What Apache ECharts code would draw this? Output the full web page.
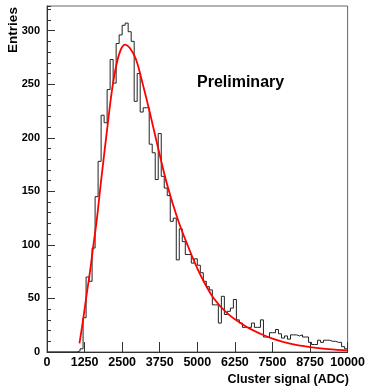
<!DOCTYPE html>
<html>
<head>
<meta charset="utf-8">
<script src="https://cdn.jsdelivr.net/npm/echarts@6/dist/echarts.min.js"></script>
<style>
  html, body { margin: 0; padding: 0; background: #fff; }
  #chart { width: 368px; height: 390px; }
</style>
</head>
<body>
<div id="chart"></div>
<script>
// Histogram of cluster signal, 100 bins of 100 ADC from 0 to 10000
const binStart = 0;
const binWidth = 100;
const counts = [
  0, 0, 0, 0, 0, 0, 0, 0, 0, 0,
  1, 3, 32, 70, 66, 97, 145, 178, 221, 214,
  245, 273, 251, 288, 296, 305, 307, 299, 290, 234,
  260, 224, 228, 228, 194, 186, 161, 204, 164, 153,
  146, 122, 125, 86, 115, 103, 91, 91, 83, 87,
  81, 74, 66, 61, 58, 44, 44, 27, 52, 35,
  38, 41, 49, 30, 27, 23, 23, 23, 27, 23,
  23, 30, 14, 14, 18, 18, 21, 17, 13, 15,
  12, 16, 16, 15, 16, 14, 14, 9, 7, 7,
  11, 9, 11, 11, 10, 10, 9, 9, 5, 3
];

// Fitted curve sampled along the signal axis
const fitX = [1080, 1200, 1310, 1430, 1535, 1650, 1800, 2030, 2150, 2300, 2450, 2600, 2750, 2950, 3150, 3400, 3700, 4000, 4350, 4700, 5000, 5250, 5550, 6000, 6550, 7100, 7550, 8050, 8750, 9350, 10000];
const fitY = [8, 30, 52, 75, 98, 122, 160, 215, 242, 267, 282, 287, 284, 274, 254, 226, 190, 156, 124, 98, 78, 64, 50, 36, 25, 17, 12, 8, 4.5, 2.6, 1.5];

const xTicks = ['0', '1250', '2500', '3750', '5000', '6250', '7500', '8750', '10000'];
const yTicks = ['0', '50', '100', '150', '200', '250', '300'];

// Outline of the histogram: each bin contributes its left and right edge
const histLine = [];
counts.forEach(function (c, i) {
  const x0 = binStart + i * binWidth;
  histLine.push([x0, c]);
  histLine.push([x0 + binWidth, c]);
});

const fitLine = fitX.map(function (x, i) { return [x, fitY[i]]; });

const FONT = 'Liberation Sans, Arial, Helvetica, sans-serif';

const chart = echarts.init(document.getElementById('chart'), null, { renderer: 'canvas' });
chart.setOption({
  animation: false,
  backgroundColor: '#ffffff',
  grid: {
    left: 47, right: 19, top: 6, bottom: 38,
    show: true, borderColor: '#666', borderWidth: 1, backgroundColor: 'transparent'
  },
  xAxis: {
    type: 'value',
    min: 0, max: 10000, interval: 1250,
    axisLine: { show: true, onZero: false, lineStyle: { color: '#333', width: 1 } },
    axisTick: { show: true, inside: true, length: 10, lineStyle: { color: '#333', width: 1 } },
    splitLine: { show: false },
    axisLabel: {
      margin: 4, color: '#000', fontFamily: FONT, fontWeight: 'bold', fontSize: 12.5,
      formatter: function (v) { return xTicks[Math.round(v / 1250)] || ''; }
    }
  },
  yAxis: [
    {
      type: 'value',
      min: 0, max: 323, interval: 50,
      axisLine: { show: true, onZero: false, lineStyle: { color: '#333', width: 1 } },
      axisTick: { show: true, inside: true, length: 8, lineStyle: { color: '#333', width: 1 } },
      splitLine: { show: false },
      axisLabel: {
        margin: 7, color: '#000', fontFamily: FONT, fontWeight: 'bold', fontSize: 11,
        showMaxLabel: false,
        formatter: function (v) { return v % 50 === 0 ? (yTicks[v / 50] || '') : ''; }
      }
    },
    {
      // minor ticks every 10 entries
      type: 'value', position: 'left',
      min: 0, max: 323, interval: 10,
      axisLine: { show: false },
      axisTick: { show: true, inside: true, length: 4, lineStyle: { color: '#333', width: 1 } },
      axisLabel: { show: false },
      splitLine: { show: false }
    }
  ],
  series: [
    {
      type: 'line',
      data: histLine,
      showSymbol: false,
      symbol: 'none',
      lineStyle: { color: '#222', width: 1 },
      z: 2
    },
    {
      type: 'line',
      data: fitLine,
      smooth: 0.4,
      showSymbol: false,
      symbol: 'none',
      lineStyle: { color: '#ff0000', width: 1.8 },
      z: 3
    }
  ],
  graphic: [
    {
      type: 'text', x: 197, y: 83,
      style: {
        text: 'Preliminary', fill: '#000',
        font: 'bold 16px ' + FONT,
        textAlign: 'left', textVerticalAlign: 'middle', align: 'left', verticalAlign: 'middle'
      }
    },
    {
      type: 'text', x: 349, y: 380,
      style: {
        text: 'Cluster signal (ADC)', fill: '#000',
        font: 'bold 12.5px ' + FONT,
        textAlign: 'right', textVerticalAlign: 'middle', align: 'right', verticalAlign: 'middle'
      }
    },
    {
      type: 'text', x: 13, y: 30, rotation: Math.PI / 2,
      style: {
        text: 'Entries', fill: '#000',
        font: 'bold 13.5px ' + FONT,
        textAlign: 'center', textVerticalAlign: 'middle', align: 'center', verticalAlign: 'middle'
      }
    }
  ]
});
</script>
</body>
</html>
